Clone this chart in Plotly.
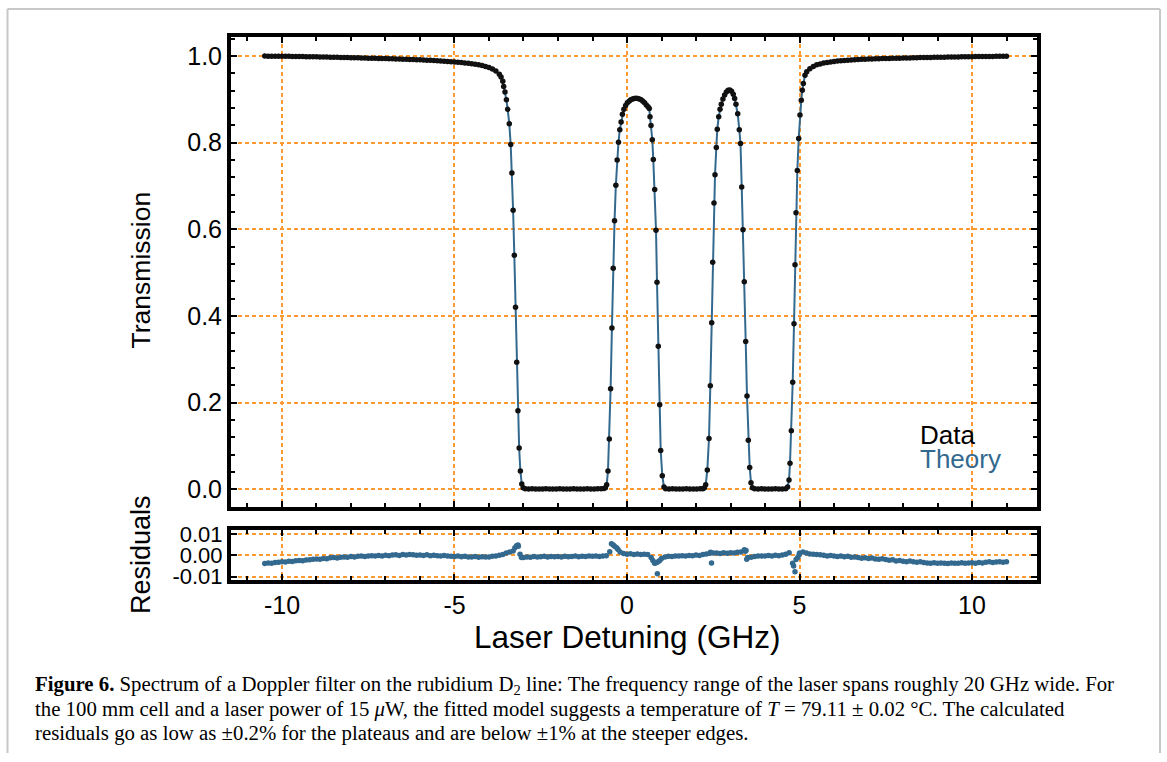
import plotly.graph_objects as go

# ---------------- data ----------------
# Measured transmission spectrum (detuning in GHz)
detuning = [
    -10.5, -10.4, -10.3, -10.2, -10.1, -10.0, -9.9, -9.8, -9.7, -9.6,
    -9.5, -9.4, -9.3, -9.2, -9.1, -9.0, -8.9, -8.8, -8.7, -8.6,
    -8.5, -8.4, -8.3, -8.2, -8.1, -8.0, -7.9, -7.8, -7.7, -7.6,
    -7.5, -7.4, -7.3, -7.2, -7.1, -7.0, -6.9, -6.8, -6.7, -6.6,
    -6.5, -6.4, -6.3, -6.2, -6.1, -6.0, -5.9, -5.8, -5.7, -5.6,
    -5.5, -5.4, -5.3, -5.2, -5.1, -5.0, -4.9, -4.8, -4.7, -4.6,
    -4.5, -4.4, -4.3, -4.2, -4.1, -4.0, -3.9, -3.8, -3.7, -3.65, -3.6,
    -3.575, -3.536, -3.495, -3.458, -3.412, -3.371, -3.336, -3.301, -3.266, -3.231,
    -3.196, -3.161, -3.126, -3.091, -3.050, -3.010,
    -2.95, -2.85, -2.75, -2.65, -2.55, -2.45, -2.35, -2.25, -2.15, -2.05,
    -1.95, -1.85, -1.75, -1.65, -1.55, -1.45, -1.35, -1.25, -1.15, -1.05,
    -0.95, -0.85, -0.75, -0.67,
    -0.625, -0.589, -0.551, -0.513, -0.475, -0.437, -0.399, -0.361, -0.323, -0.285,
    -0.247, -0.209, -0.171, -0.133,
    -0.09, -0.04, 0.01, 0.06, 0.11, 0.16, 0.21, 0.26, 0.31, 0.36, 0.41, 0.46, 0.51, 0.56, 0.61,
    0.646, 0.667, 0.696, 0.733, 0.762, 0.803, 0.841, 0.870, 0.907, 0.948, 0.977, 1.023, 1.072,
    1.12, 1.22, 1.32, 1.42, 1.52, 1.62, 1.72, 1.82, 1.92, 2.02, 2.12, 2.20,
    2.245, 2.281, 2.328, 2.377, 2.415, 2.455, 2.484, 2.522, 2.551, 2.589, 2.617, 2.658, 2.696, 2.733,
    2.78, 2.83, 2.88, 2.93, 2.98, 3.03, 3.08, 3.12,
    3.159, 3.209, 3.255, 3.290, 3.325, 3.362, 3.400, 3.441, 3.478, 3.516, 3.557, 3.594, 3.635,
    3.70, 3.80, 3.90, 4.00, 4.10, 4.20, 4.30, 4.40, 4.50, 4.60,
    4.655, 4.696, 4.725, 4.763, 4.803, 4.841, 4.870, 4.899, 4.937, 4.977,
    5.014, 5.052, 5.081, 5.110, 5.159, 5.21, 5.30, 5.40,
    5.5, 5.6, 5.7, 5.8, 5.9, 6.0, 6.1, 6.2, 6.3, 6.4,
    6.5, 6.6, 6.7, 6.8, 6.9, 7.0, 7.1, 7.2, 7.3, 7.4,
    7.5, 7.6, 7.7, 7.8, 7.9, 8.0, 8.1, 8.2, 8.3, 8.4,
    8.5, 8.6, 8.7, 8.8, 8.9, 9.0, 9.1, 9.2, 9.3, 9.4,
    9.5, 9.6, 9.7, 9.8, 9.9, 10.0, 10.1, 10.2, 10.3, 10.4,
    10.5, 10.6, 10.7, 10.8, 10.9, 11.0,
]
transmission = [
    1.0000, 0.9999, 0.9999, 0.9998, 0.9997, 0.9996, 0.9995, 0.9994, 0.9993, 0.9992,
    0.9990, 0.9989, 0.9987, 0.9986, 0.9984, 0.9983, 0.9981, 0.9980, 0.9978, 0.9976,
    0.9974, 0.9972, 0.9970, 0.9968, 0.9966, 0.9964, 0.9962, 0.9960, 0.9958, 0.9955,
    0.9953, 0.9950, 0.9948, 0.9946, 0.9944, 0.9942, 0.9940, 0.9937, 0.9935, 0.9932,
    0.9930, 0.9927, 0.9924, 0.9921, 0.9918, 0.9915, 0.9911, 0.9907, 0.9903, 0.9899,
    0.9894, 0.9889, 0.9884, 0.9878, 0.9872, 0.9866, 0.9859, 0.9851, 0.9843, 0.9834,
    0.9824, 0.9812, 0.9798, 0.9782, 0.9762, 0.9737, 0.9704, 0.9655, 0.9580, 0.9515, 0.9420,
    0.930, 0.917, 0.899, 0.877, 0.844, 0.796, 0.730, 0.644, 0.540, 0.420,
    0.293, 0.181, 0.095, 0.042, 0.012, 0.003,
    0.0008, 0.0005, 0.0007, 0.0004, 0.0006, 0.0005, 0.0008, 0.0004, 0.0006, 0.0005,
    0.0007, 0.0004, 0.0006, 0.0005, 0.0007, 0.0004, 0.0006, 0.0005, 0.0007, 0.0005,
    0.0006, 0.0008, 0.0010, 0.0015,
    0.003, 0.010, 0.042, 0.116, 0.232, 0.372, 0.510, 0.620, 0.702, 0.760,
    0.801, 0.830, 0.848, 0.866,
    0.877, 0.886, 0.892, 0.896, 0.899, 0.901, 0.902, 0.9025, 0.902, 0.901, 0.899, 0.896, 0.892, 0.887, 0.883,
    0.879, 0.860, 0.840, 0.807, 0.761, 0.692, 0.598, 0.478, 0.330, 0.195, 0.089, 0.031, 0.005,
    0.0008, 0.0005, 0.0007, 0.0004, 0.0006, 0.0005, 0.0007, 0.0004, 0.0006, 0.0005, 0.0008, 0.0012,
    0.003, 0.010, 0.044, 0.117, 0.239, 0.384, 0.524, 0.661, 0.726, 0.789, 0.831, 0.860, 0.877, 0.889,
    0.901, 0.910, 0.917, 0.921, 0.922, 0.919, 0.912, 0.902,
    0.889, 0.867, 0.830, 0.798, 0.698, 0.599, 0.479, 0.341, 0.215, 0.113, 0.050, 0.015, 0.003,
    0.0008, 0.0005, 0.0007, 0.0004, 0.0006, 0.0005, 0.0007, 0.0004, 0.0006, 0.0012,
    0.005, 0.021, 0.060, 0.135, 0.247, 0.382, 0.518, 0.638, 0.736, 0.810,
    0.864, 0.898, 0.921, 0.937, 0.956, 0.964, 0.971, 0.976,
    0.9800, 0.9820, 0.9838, 0.9852, 0.9865, 0.9876, 0.9886, 0.9894, 0.9901, 0.9907,
    0.9912, 0.9917, 0.9921, 0.9925, 0.9928, 0.9931, 0.9934, 0.9937, 0.9940, 0.9942,
    0.9945, 0.9947, 0.9949, 0.9951, 0.9953, 0.9955, 0.9957, 0.9959, 0.9961, 0.9963,
    0.9965, 0.9966, 0.9968, 0.9970, 0.9971, 0.9973, 0.9974, 0.9976, 0.9977, 0.9979,
    0.9980, 0.9981, 0.9983, 0.9984, 0.9985, 0.9986, 0.9988, 0.9989, 0.9990, 0.9991,
    0.9992, 0.9993, 0.9994, 0.9995, 0.9996, 0.9997,
]

# Residuals (data - theory)
resid_x = [
    -10.5, -10.4, -10.3, -10.2, -10.1,
    -10.0, -9.9, -9.8, -9.7, -9.6, -9.5, -9.4, -9.3, -9.2, -9.1,
    -9.0, -8.9, -8.8, -8.7, -8.6, -8.5, -8.4, -8.3, -8.2, -8.1,
    -8.0, -7.9, -7.8, -7.7, -7.6, -7.5, -7.4, -7.3, -7.2, -7.1,
    -7.0, -6.9, -6.8, -6.7, -6.6, -6.5, -6.4, -6.3, -6.2, -6.1,
    -6.0, -5.9, -5.8, -5.7, -5.6, -5.5, -5.4, -5.3, -5.2, -5.1,
    -5.0, -4.9, -4.8, -4.7, -4.6, -4.5, -4.4, -4.3, -4.2, -4.1,
    -4.0, -3.9, -3.8, -3.7, -3.6, -3.5, -3.4, -3.3, -3.2, -3.1,
    -3.25, -3.16, -3.15, -3.06,
    -3.0, -2.9, -2.8, -2.7, -2.6, -2.5, -2.4, -2.3, -2.2, -2.1,
    -2.0, -1.9, -1.8, -1.7, -1.6, -1.5, -1.4, -1.3, -1.2, -1.1,
    -1.0, -0.9, -0.8, -0.7, -0.6, -0.5, -0.4, -0.3, -0.2, -0.1,
    -0.45, -0.36, -0.26,
    0.0, 0.1, 0.2, 0.3, 0.4, 0.5, 0.6, 0.7, 0.8, 0.9,
    0.75, 0.85, 0.88, 0.95,
    1.0, 1.1, 1.2, 1.3, 1.4, 1.5, 1.6, 1.7, 1.8, 1.9,
    2.0, 2.1, 2.2, 2.3, 2.4, 2.5, 2.6, 2.7, 2.8, 2.9,
    2.42, 2.45,
    3.0, 3.1, 3.2, 3.3, 3.4, 3.5, 3.6, 3.7, 3.8, 3.9,
    3.43, 3.45, 3.47,
    4.0, 4.1, 4.2, 4.3, 4.4, 4.5, 4.6, 4.7, 4.8, 4.9,
    4.83, 4.87, 4.95, 4.99,
    5.0, 5.1, 5.2, 5.3, 5.4, 5.5, 5.6, 5.7, 5.8, 5.9,
    6.0, 6.1, 6.2, 6.3, 6.4, 6.5, 6.6, 6.7, 6.8, 6.9,
    7.0, 7.1, 7.2, 7.3, 7.4, 7.5, 7.6, 7.7, 7.8, 7.9,
    8.0, 8.1, 8.2, 8.3, 8.4, 8.5, 8.6, 8.7, 8.8, 8.9,
    9.0, 9.1, 9.2, 9.3, 9.4, 9.5, 9.6, 9.7, 9.8, 9.9,
    10.0, 10.1, 10.2, 10.3, 10.4, 10.5, 10.6, 10.7, 10.8, 10.9,
    11.0,
]
residual = [
    -0.0039, -0.0036, -0.0038, -0.0034, -0.0033,
    -0.0030, -0.0032, -0.0028, -0.0029, -0.0026, -0.0024, -0.0026, -0.0022, -0.0021, -0.0019,
    -0.0017, -0.0019, -0.0015, -0.0016, -0.0012, -0.0010, -0.0013, -0.0009, -0.0008, -0.0009,
    -0.0006, -0.0008, -0.0005, -0.0004, -0.0006, -0.0003, -0.0002, -0.0004, -0.0001, -0.0003,
    0.0000, -0.0002, 0.0001, 0.0002, -0.0001, 0.0003, 0.0001, 0.0004, 0.0002, 0.0000,
    0.0001, -0.0001, 0.0002, -0.0002, 0.0000, -0.0002, -0.0004, -0.0001, -0.0003, -0.0005,
    -0.0006, -0.0004, -0.0007, -0.0005, -0.0008, -0.0008, -0.0006, -0.0009, -0.0007, -0.0008,
    -0.0008, -0.0005, -0.0003, 0.0000, 0.0004, 0.0010, 0.0015, 0.0020, 0.0044, 0.0005,
    0.0035, 0.0048, 0.0042, -0.0011,
    -0.0010, -0.0008, -0.0009, -0.0006, -0.0008, -0.0007, -0.0005, -0.0008, -0.0006, -0.0007,
    -0.0006, -0.0008, -0.0005, -0.0007, -0.0006, -0.0004, -0.0007, -0.0005, -0.0006, -0.0004,
    -0.0005, -0.0003, -0.0006, -0.0004, -0.0002, 0.0016, 0.0048, 0.0035, 0.0015, 0.0008,
    0.0054, 0.0042, 0.0027,
    0.0005, 0.0007, 0.0003, 0.0006, 0.0004, 0.0005, 0.0003, -0.0011, -0.0038, -0.0030,
    -0.0024, -0.0035, -0.0086, -0.0025,
    -0.0015, -0.0008, -0.0005, -0.0006, -0.0003, -0.0004, -0.0002, -0.0004, -0.0001, -0.0002,
    0.0001, -0.0001, 0.0003, 0.0006, 0.0009, 0.0010, 0.0011, 0.0008, 0.0012, 0.0009,
    0.0014, -0.0036,
    0.0012, 0.0010, 0.0014, 0.0015, 0.0026, -0.0011, -0.0009, -0.0006, -0.0004, -0.0003,
    0.0019, 0.0022, -0.0019,
    -0.0003, -0.0001, -0.0003, 0.0000, -0.0002, 0.0001, 0.0005, 0.0012, -0.0038, -0.0020,
    -0.0050, -0.0077, -0.0010, 0.0002,
    0.0010, 0.0015, 0.0010, 0.0006, 0.0005, 0.0003, 0.0002, 0.0000, -0.0003, -0.0001,
    -0.0004, -0.0006, -0.0003, -0.0007, -0.0005, -0.0009, -0.0008, -0.0011, -0.0014, -0.0012,
    -0.0015, -0.0013, -0.0017, -0.0019, -0.0016, -0.0020, -0.0023, -0.0021, -0.0027, -0.0025,
    -0.0028, -0.0030, -0.0027, -0.0031, -0.0033, -0.0030, -0.0034, -0.0036, -0.0037, -0.0035,
    -0.0038, -0.0036, -0.0037, -0.0039, -0.0036, -0.0038, -0.0037, -0.0035, -0.0038, -0.0036,
    -0.0035, -0.0037, -0.0034, -0.0036, -0.0033, -0.0031, -0.0034, -0.0032, -0.0030, -0.0033,
    -0.0031,
]

x_tick_vals = [-10, -5, 0, 5, 10]
x_tick_text = ["-10", "-5", "0", "5", "10"]
y_tick_vals = [0.0, 0.2, 0.4, 0.6, 0.8, 1.0]
y_tick_text = ["0.0", "0.2", "0.4", "0.6", "0.8", "1.0"]
r_tick_vals = [-0.01, 0.0, 0.01]
r_tick_text = ["-0.01", "0.00", "0.01"]

caption_lines = [
    "<b>Figure 6.</b> Spectrum of a Doppler filter on the rubidium D<sub>2</sub> line: The frequency range of the laser spans roughly 20 GHz wide. For",
    "the 100 mm cell and a laser power of 15 <i>μ</i>W, the fitted model suggests a temperature of <i>T</i> = 79.11 ± 0.02 °C. The calculated",
    "residuals go as low as ±0.2% for the plateaus and are below ±1% at the steeper edges.",
]

# ---------------- styling ----------------
W, H = 1167, 762
BLUE = "#33698f"
GRID = "#ff9a33"
SANS = "Liberation Sans, Arial, sans-serif"
SERIF = "Liberation Serif, Times New Roman, serif"

# the page photo maps figure y -> 8 + 0.976*y ; positions below are given in
# photo pixels and converted back to figure coordinates
Y_OFF, Y_SCALE = 8.0, 0.976


def px_x(p):
    return p / W


def px_y(p):
    return 1 - ((p - Y_OFF) / Y_SCALE) / H


xdom = [px_x(231), px_x(1037)]
xrange_ = [-11.478, 11.884]

fig = go.Figure()
fig.add_trace(go.Scatter(x=detuning, y=transmission, mode="lines",
                         line=dict(color=BLUE, width=2), name="Theory",
                         xaxis="x", yaxis="y", showlegend=False))
fig.add_trace(go.Scatter(x=detuning, y=transmission, mode="markers",
                         marker=dict(color="#111111", size=5.5), name="Data",
                         xaxis="x", yaxis="y", showlegend=False))
fig.add_trace(go.Scatter(x=resid_x, y=residual, mode="markers",
                         marker=dict(color=BLUE, size=5.5), name="Residuals",
                         xaxis="x2", yaxis="y2", showlegend=False))

common_x = dict(
    domain=xdom, range=xrange_, tickmode="array", tickvals=x_tick_vals,
    ticks="inside", ticklen=6, tickwidth=2, tickcolor="black",
    minor=dict(ticks="inside", dtick=1, tick0=0, ticklen=4, tickwidth=2,
               tickcolor="black", showgrid=False),
    showgrid=True, gridcolor=GRID, gridwidth=1.5, griddash="4px,3px",
    showline=True, linewidth=4, linecolor="black", mirror="allticks",
    zeroline=False,
)

fig.update_layout(
    width=W, height=H, autosize=False,
    margin=dict(l=0, r=0, t=0, b=0),
    paper_bgcolor="white", plot_bgcolor="white",
    font=dict(family=SANS, color="black"),
    xaxis=dict(**common_x, anchor="y", showticklabels=False),
    yaxis=dict(domain=[px_y(506), px_y(37)], range=[-0.0409, 1.0440],
               tickmode="array", tickvals=y_tick_vals, ticktext=y_tick_text,
               ticks="inside", ticklen=6, tickwidth=2, tickcolor="black",
               minor=dict(ticks="inside", dtick=0.04, tick0=0, ticklen=4,
                          tickwidth=2, tickcolor="black", showgrid=False),
               showgrid=True, gridcolor=GRID, gridwidth=1.5, griddash="4px,3px",
               showline=True, linewidth=4, linecolor="black", mirror="allticks",
               zeroline=False, anchor="x",
               tickfont=dict(size=25, family=SANS, color="black")),
    xaxis2=dict(**common_x, anchor="y2", showticklabels=True,
                ticktext=x_tick_text,
                tickfont=dict(size=25, family=SANS, color="black")),
    yaxis2=dict(domain=[px_y(579), px_y(529)], range=[-0.011569, 0.011850],
                tickmode="array", tickvals=r_tick_vals, ticktext=r_tick_text,
                ticks="inside", ticklen=6, tickwidth=2, tickcolor="black",
                showgrid=True, gridcolor=GRID, gridwidth=1.5, griddash="4px,3px",
                showline=True, linewidth=4, linecolor="black", mirror="allticks",
                zeroline=False, anchor="x2",
                tickfont=dict(size=22, family=SANS, color="black")),
)

annotations = [
    dict(text="Transmission", x=px_x(141), y=px_y(270), textangle=-90,
         font=dict(size=26.5, family=SANS, color="black")),
    dict(text="Residuals", x=px_x(141), y=px_y(554), textangle=-90,
         font=dict(size=27, family=SANS, color="black")),
    dict(text="Laser Detuning (GHz)", x=px_x(627), y=px_y(636),
         font=dict(size=31.5, family=SANS, color="black")),
    dict(text="Data", x=px_x(918), y=px_y(434), xanchor="left",
         font=dict(size=26, family=SANS, color="black")),
    dict(text="Theory", x=px_x(918), y=px_y(458), xanchor="left",
         font=dict(size=26, family=SANS, color=BLUE)),
]
for i, line in enumerate(caption_lines):
    annotations.append(dict(text=line, x=px_x(33), y=px_y(684 + 24 * i),
                            xanchor="left",
                            font=dict(size=20.8, family=SERIF, color="black")))
for a in annotations:
    a.setdefault("xanchor", "center")
    a.setdefault("yanchor", "middle")
    a.update(xref="paper", yref="paper", showarrow=False)
fig.update_layout(annotations=annotations)

# light grey frame around the figure (left, top, right edges; bottom is off-page)
border = dict(color="#c8c8c8", width=2)
top_y = 1 - 1.0 / H
for (xa, ya, xb, yb) in [(7.5, 0.0, 7.5, top_y), (7.5, top_y, 1160, top_y), (1160, top_y, 1160, 0.0)]:
    fig.add_shape(type="line", xref="paper", yref="paper",
                  x0=px_x(xa), y0=ya, x1=px_x(xb), y1=yb,
                  line=border, layer="below")

fig.write_html(
    "out.html",
    config={"displayModeBar": False, "responsive": False},
    post_script="document.body.style.margin='0';document.body.style.overflow='hidden';",
)
